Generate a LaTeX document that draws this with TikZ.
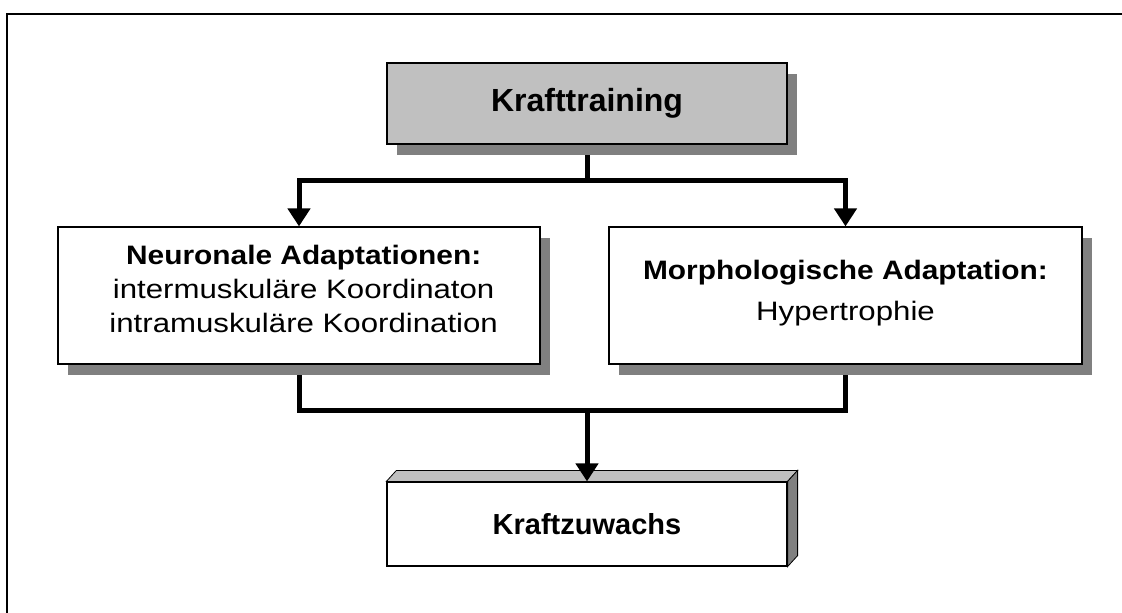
\documentclass[tikz,border=0pt]{standalone}
\usepackage{fontspec}
\setmainfont{Liberation Sans}
\newfontfamily\widefont[FakeStretch=1.17]{Liberation Sans}
\newfontfamily\wideboldfont[FakeStretch=1.12]{Liberation Sans}
\usetikzlibrary{shadows,arrows.meta,backgrounds}

\definecolor{boxgray}{HTML}{C0C0C0}
\definecolor{shadowgray}{HTML}{808080}

\newcommand{\boxhead}[1]{{\wideboldfont\bfseries #1}}

\tikzset{
  % one unit = one pixel of the 1122x612 canvas, y running downward
  x=0.75pt, y=-0.75pt,
  basebox/.style={draw=black, line width=0.9pt, rectangle, inner sep=0pt,
    align=center,
    drop shadow={shadow xshift=7.5pt, shadow yshift=-8pt,
                 fill=shadowgray, opacity=1, draw=none}},
  headbox/.style={basebox, fill=boxgray, minimum width=300pt, minimum height=60.75pt,
    font=\fontsize{24pt}{28pt}\selectfont\bfseries},
  midbox/.style={basebox, fill=white, minimum height=102.75pt},
  midtext/.style={inner sep=0pt, align=center,
    font=\widefont\fontsize{20pt}{25.5pt}\selectfont},
  resultbox/.style={draw=black, line width=0.9pt, rectangle, inner sep=0pt,
    fill=white, minimum width=300pt, minimum height=63pt,
    font=\fontsize{21.75pt}{26pt}\selectfont\bfseries},
  conn/.style={line width=3.75pt, line join=miter},
  connarrow/.style={conn, -{Triangle[width=16.5pt,length=13.5pt]}},
}

\begin{document}
\begin{tikzpicture}
\useasboundingbox (0,0) rectangle (1122,612);

% outer frame, running off the right and bottom edges
\draw[line width=1.6pt] (7,620) -- (7,14) -- (1130,14);

% boxes
\node[headbox] (kt) at (587,103.5) {Krafttraining};
\node[midbox, minimum width=361.5pt] (nb) at (299,295.5) {};
\node[midbox, minimum width=354.75pt] (ma) at (845.5,295.5) {};
\node[resultbox] (kz) at (587,524) {Kraftzuwachs};

% texts of the two middle boxes
\node[midtext] (nbtext) at ([xshift=3.5pt,yshift=5pt]nb.center)
  {\boxhead{Neuronale Adaptationen:}\\intermuskuläre Koordinaton\\intramuskuläre Koordination};
\node[midtext] (matext) at ([yshift=2pt]ma.center)
  {\boxhead{Morphologische Adaptation:}\\[5pt]Hypertrophie};

% bevel of the result box
\filldraw[fill=boxgray, draw=black, line width=0.6pt]
  (kz.north west) -- ++(10,-11) -- ([shift={(10,-11)}]kz.north east) -- (kz.north east) -- cycle;
\filldraw[fill=shadowgray, draw=black, line width=0.6pt]
  (kz.north east) -- ++(10,-11) -- ([shift={(10,-11)}]kz.south east) -- (kz.south east) -- cycle;

% junction points of the connectors
\coordinate (split) at (587,180);
\coordinate (merge) at (587,410);

\begin{pgfonlayer}{background}
  \draw[conn] (kt.south) -- (split);
  \draw[connarrow] (split) -| (nb.north);
  \draw[connarrow] (split) -| (ma.north);
  \draw[conn] (nb.south) -- (nb.south |- merge) -- (ma.south |- merge) -- (ma.south);
\end{pgfonlayer}
\draw[connarrow] (merge) -- (kz.north);

\end{tikzpicture}
\end{document}
